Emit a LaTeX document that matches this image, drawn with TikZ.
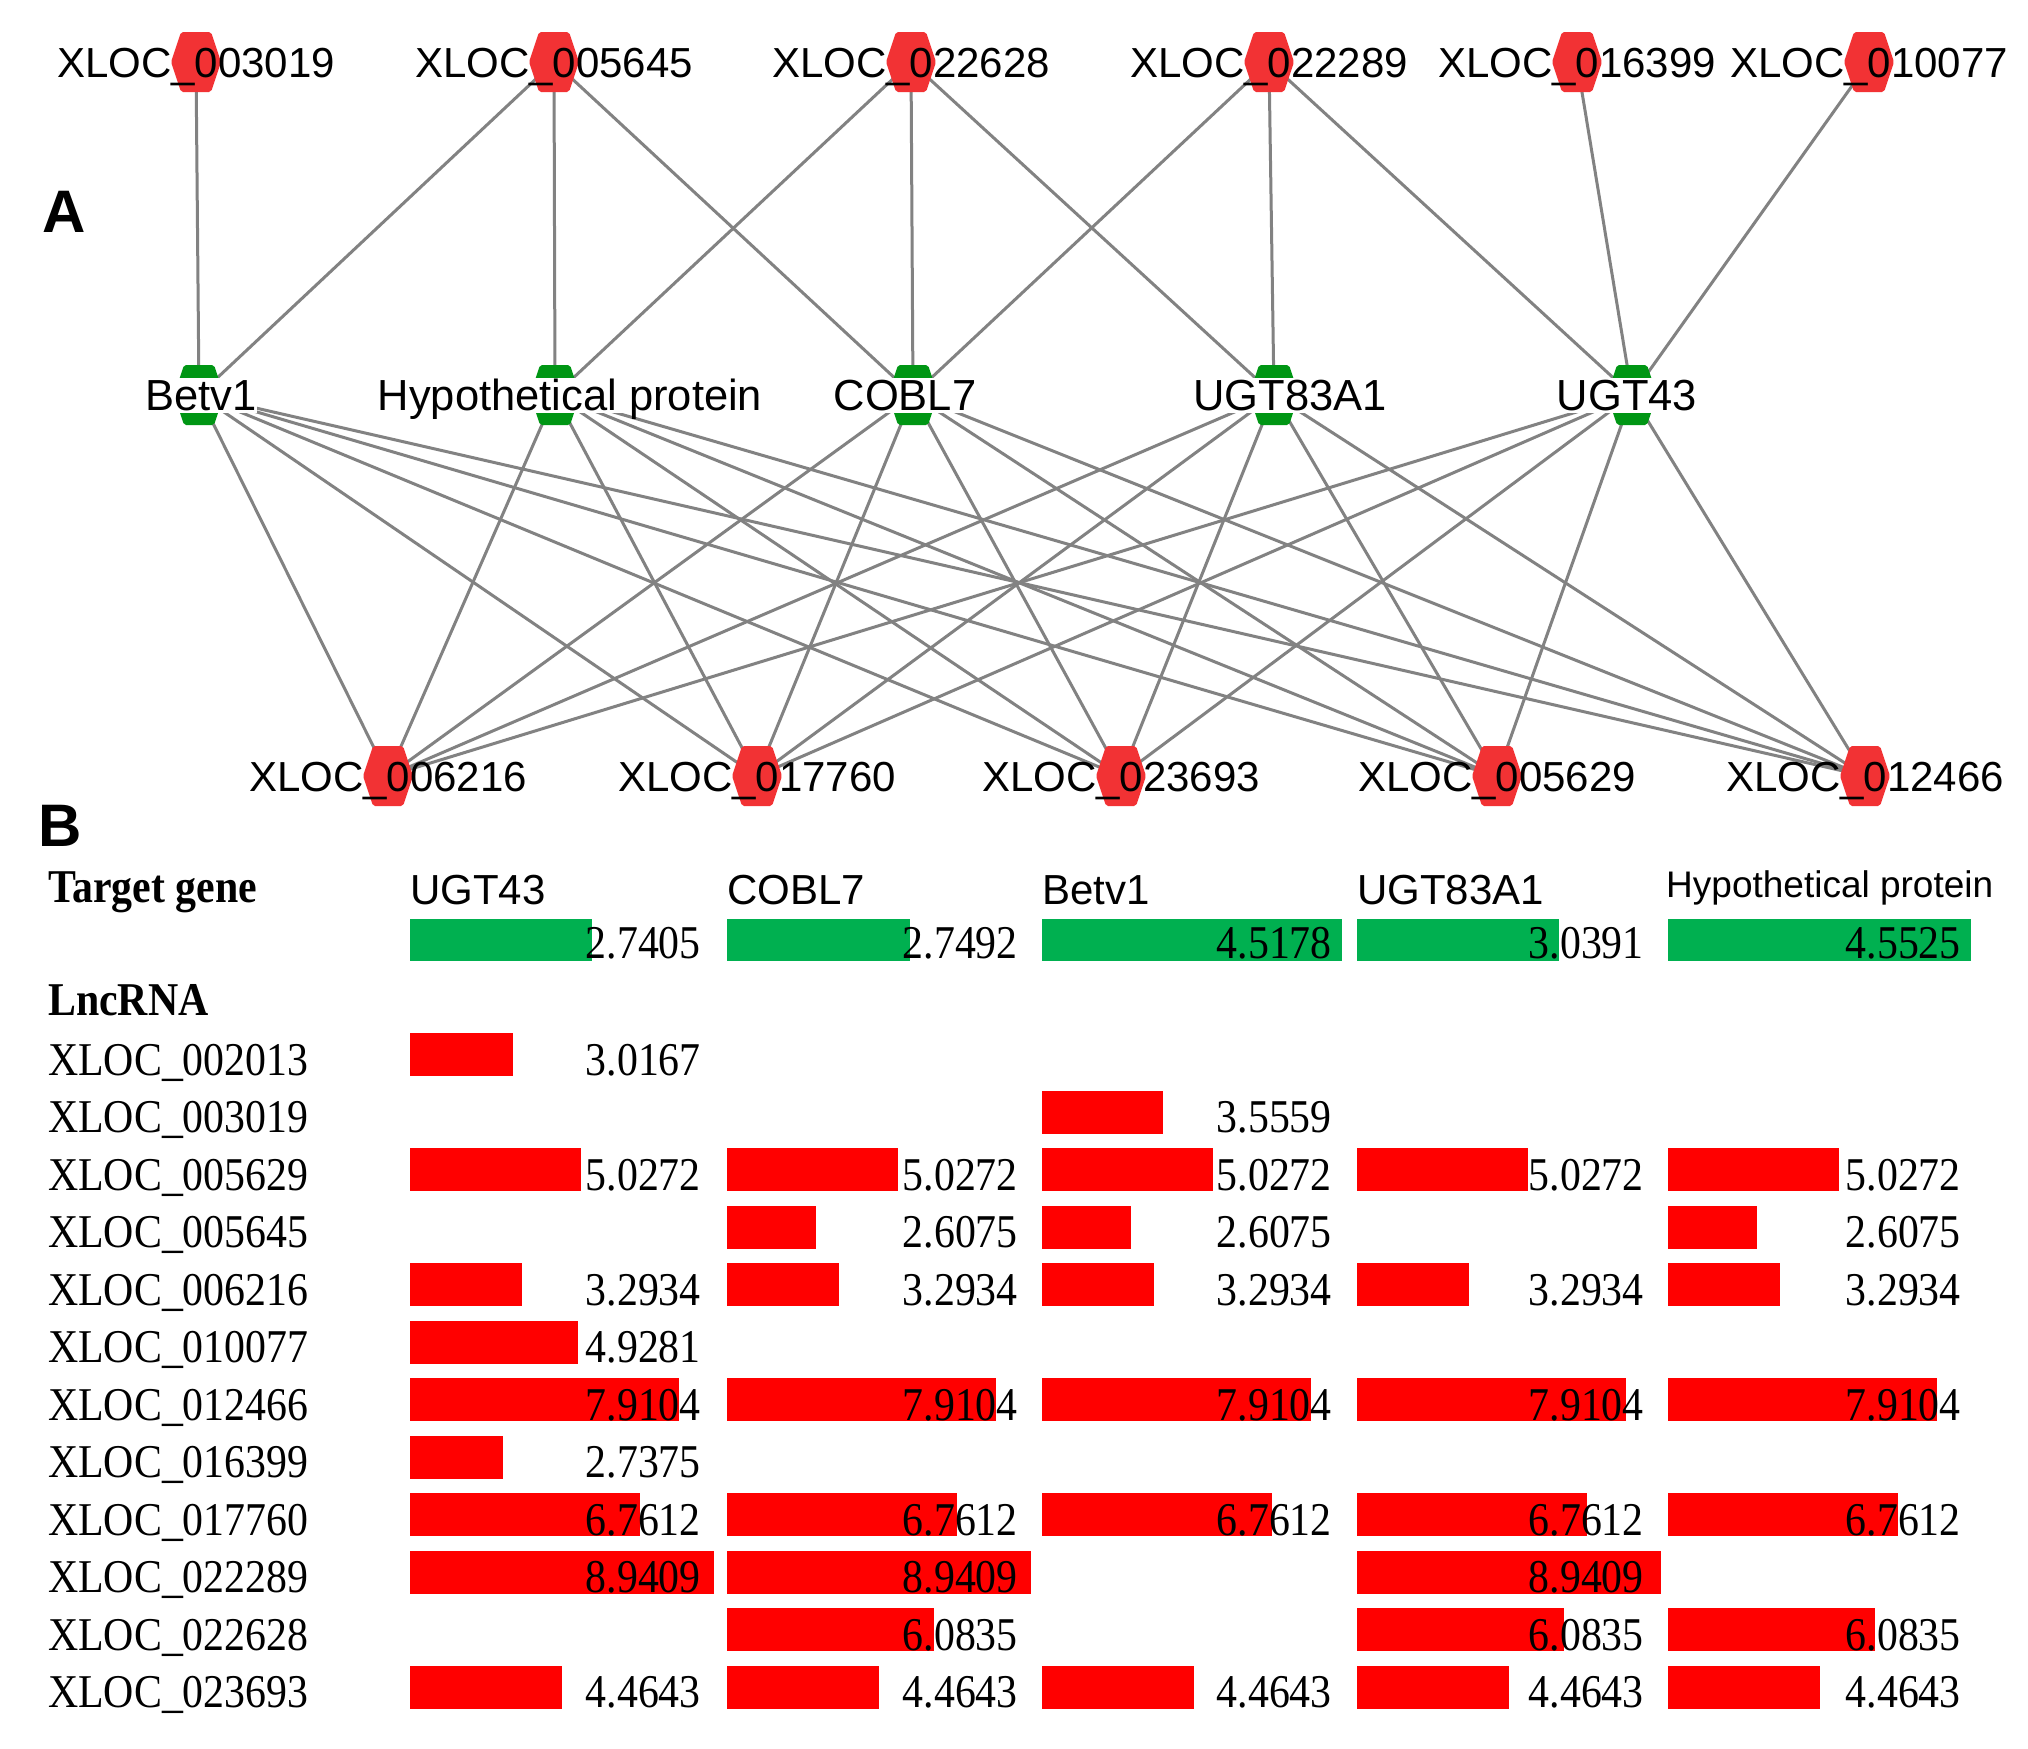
\documentclass[tikz,border=0pt]{standalone}
\usepackage{fontspec}
\setmainfont{Liberation Serif}
\newfontfamily\arialf{Liberation Sans}
\newfontfamily\timesf[FakeStretch=0.89]{Liberation Serif}
\definecolor{hexred}{RGB}{242,50,52}
\definecolor{hexgreen}{RGB}{0,150,20}
\definecolor{barred}{RGB}{255,0,0}
\definecolor{bargreen}{RGB}{0,176,80}
\definecolor{edgegray}{RGB}{130,130,130}
\newcommand\hexnode[2]{\fill[#2, rounded corners=2pt] ([shift={(-25,0)}]#1) -- ([shift={(-15,-30)}]#1) -- ([shift={(15,-30)}]#1) -- ([shift={(25,0)}]#1) -- ([shift={(15,30)}]#1) -- ([shift={(-15,30)}]#1) -- cycle;}
\begin{document}
\begin{tikzpicture}[x=1pt,y=-1pt,
  edge/.style={draw=edgegray, line width=3pt},
  netlab/.style={font=\arialf\fontsize{42}{50}\selectfont, inner sep=0pt, text height=31pt, text depth=0pt},
  genelab/.style={font=\arialf\fontsize{43.5}{50}\selectfont, fill=white, inner sep=0pt, text height=32.5pt, text depth=2.5pt},
  panel/.style={font=\arialf\bfseries\fontsize{60}{70}\selectfont, inner sep=0pt, anchor=base west},
  rowlab/.style={font=\timesf\fontsize{47}{56}\selectfont, inner sep=0pt, anchor=base west},
  boldlab/.style={font=\timesf\bfseries\fontsize{47}{56}\selectfont, inner sep=0pt, anchor=base west},
  numlab/.style={font=\timesf\fontsize{47}{56}\selectfont, inner sep=0pt, anchor=base east},
  colhead/.style={font=\arialf\fontsize{42}{50}\selectfont, inner sep=0pt, anchor=base west}
]
\fill[white] (0,0) rectangle (2028,1748);
\useasboundingbox (0,0) rectangle (2028,1748);
% network coordinates
\coordinate (t1) at (196,62);
\coordinate (t2) at (554,62);
\coordinate (t3) at (911,62);
\coordinate (t4) at (1269,62);
\coordinate (t5) at (1577,62);
\coordinate (t6) at (1869,62);
\coordinate (g1) at (199,395);
\coordinate (g2) at (555,395);
\coordinate (g3) at (913,395);
\coordinate (g4) at (1274,395);
\coordinate (g5) at (1632,395);
\coordinate (b1) at (388,776);
\coordinate (b2) at (757,776);
\coordinate (b3) at (1121,776);
\coordinate (b4) at (1497,776);
\coordinate (b5) at (1865,776);
% edges
\foreach \a/\b in {t1/g1,t2/g1,t2/g2,t2/g3,t3/g2,t3/g3,t3/g4,t4/g3,t4/g4,t4/g5,t5/g5,t6/g5}
  \draw[edge] (\a) -- (\b);
\foreach \b in {b1,b2,b3,b4,b5}
  \foreach \g in {g1,g2,g3,g4,g5}
    \draw[edge] (\b) -- (\g);
% shapes
\foreach \n in {t1,t2,t3,t4,t5,t6,b1,b2,b3,b4,b5} {\hexnode{\n}{hexred}}
\foreach \n in {g1,g2,g3,g4,g5} {\hexnode{\n}{hexgreen}}
% labels
\node[netlab] (t1l) at (t1) {XLOC\_003019};
\node[netlab] (t2l) at (t2) {XLOC\_005645};
\node[netlab] (t3l) at (t3) {XLOC\_022628};
\node[netlab] (t4l) at (t4) {XLOC\_022289};
\node[netlab] (t5l) at (t5) {XLOC\_016399};
\node[netlab] (t6l) at (t6) {XLOC\_010077};
\node[genelab, xshift=2pt] (g1l) at (g1) {Betv1};
\node[genelab, xshift=15pt] (g2l) at (g2) {Hypothetical protein};
\node[genelab, xshift=-8pt] (g3l) at (g3) {COBL7};
\node[genelab, xshift=16pt] (g4l) at (g4) {UGT83A1};
\node[genelab, xshift=-5pt] (g5l) at (g5) {UGT43};
\node[netlab] (b1l) at (b1) {XLOC\_006216};
\node[netlab] (b2l) at (b2) {XLOC\_017760};
\node[netlab] (b3l) at (b3) {XLOC\_023693};
\node[netlab] (b4l) at (b4) {XLOC\_005629};
\node[netlab] (b5l) at (b5) {XLOC\_012466};
\node[panel] (pA) at (42,232) {A};
\node[panel] (pB) at (38,846) {B};
% table header
\node[boldlab] (tg) at (48,902) {Target gene};
\node[colhead] (h1) at (410,904) {UGT43};
\node[colhead] (h2) at (727,904) {COBL7};
\node[colhead] (h3) at (1042,904) {Betv1};
\node[colhead] (h4) at (1357,904) {UGT83A1};
\node[colhead, font=\arialf\fontsize{37}{44}\selectfont] (h5) at (1666,897) {Hypothetical protein};
% green bars
\foreach \v [count=\c] in {2.7405,2.7492,4.5178,3.0391,4.5525} {
  \pgfmathsetmacro\xs{{410,727,1042,1357,1668}[\c-1]}
  \pgfmathsetmacro\xe{{701,1018,1332,1644,1961}[\c-1]}
  \fill[bargreen] (\xs,919) rectangle (\xs+66.5*\v,961);
  \node[numlab] (gv\c) at (\xe,958) {\v};
}
\node[boldlab] (lnc) at (48,1015) {LncRNA};
% red rows
\foreach \lab/\val/\cols [count=\i from 0] in {
  002013/3.0167/{1},
  003019/3.5559/{3},
  005629/5.0272/{1,2,3,4,5},
  005645/2.6075/{2,3,5},
  006216/3.2934/{1,2,3,4,5},
  010077/4.9281/{1},
  012466/7.9104/{1,2,3,4,5},
  016399/2.7375/{1},
  017760/6.7612/{1,2,3,4,5},
  022289/8.9409/{1,2,4},
  022628/6.0835/{2,4,5},
  023693/4.4643/{1,2,3,4,5}} {
  \pgfmathsetmacro\yb{1075+57.5*\i}
  \node[rowlab] (r\i) at (48,\yb) {XLOC\_\lab};
  \foreach \c in \cols {
    \pgfmathsetmacro\xs{{410,727,1042,1357,1668}[\c-1]}
    \pgfmathsetmacro\xe{{701,1018,1332,1644,1961}[\c-1]}
    \fill[barred] (\xs,\yb-42) rectangle (\xs+34*\val,\yb+1);
    \node[numlab] (v\i-\c) at (\xe,\yb) {\val};
  }
}
\end{tikzpicture}
\end{document}
